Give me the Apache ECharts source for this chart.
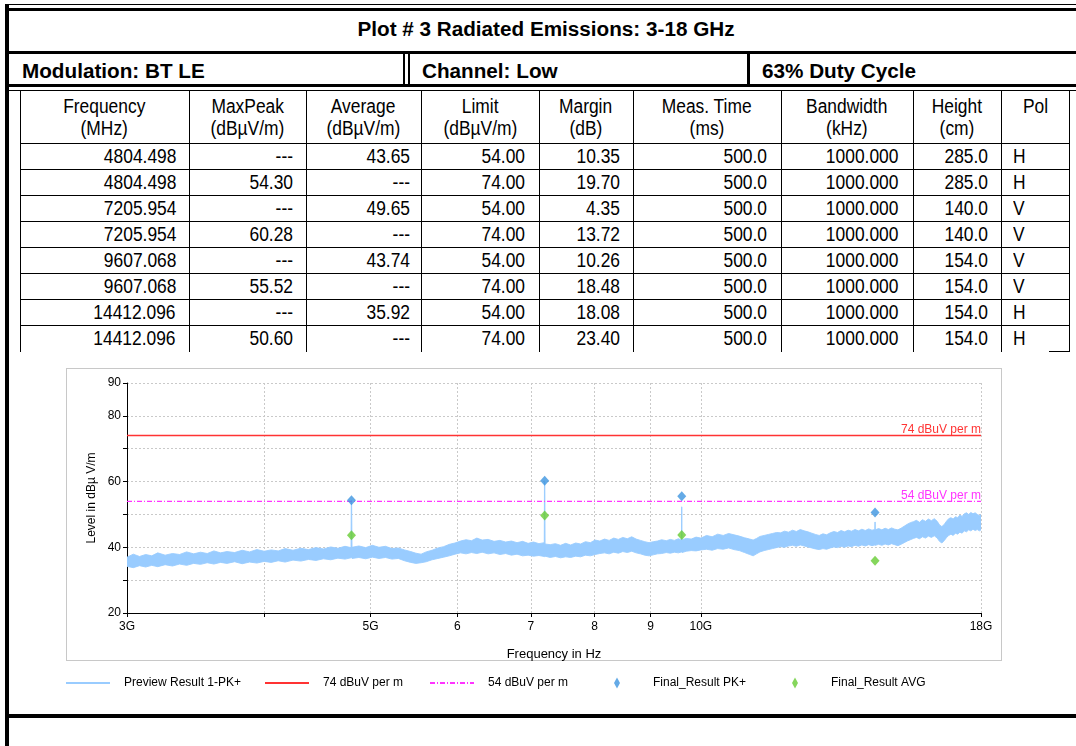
<!DOCTYPE html>
<html><head><meta charset="utf-8">
<script src="https://cdn.jsdelivr.net/npm/echarts@6.0.0/dist/echarts.min.js"></script>
<style>
html,body{margin:0;padding:0;background:#fff;width:1076px;height:746px;overflow:hidden;font-family:"Liberation Sans",Arial,sans-serif;}
#page{position:absolute;left:0;top:0;width:1076px;height:746px;}
.ln{position:absolute;background:#000;}
.tx{position:absolute;white-space:nowrap;color:#000;box-sizing:border-box;}
.tx span{display:inline-block;}
#panel{position:absolute;left:66px;top:368px;width:936px;height:293px;border:1px solid #c8c8c8;box-sizing:border-box;}
#chart{position:absolute;left:0;top:0;width:1076px;height:746px;}
</style></head><body>
<div id="page"></div>
<div id="panel"></div>
<div id="chart"></div>
<script>
// ---------- texts ----------
const plotTitle = 'Plot # 3 Radiated Emissions: 3-18 GHz';
const infoCells = ['Modulation: BT LE', 'Channel: Low', '63% Duty Cycle'];
const headLine1 = ['Frequency', 'MaxPeak', 'Average', 'Limit', 'Margin', 'Meas. Time', 'Bandwidth', 'Height', 'Pol'];
const headLine2 = ['(MHz)', '(dBµV/m)', '(dBµV/m)', '(dBµV/m)', '(dB)', '(ms)', '(kHz)', '(cm)', ''];

// ---------- table values ----------
const rowFreq = ['4804.498', '4804.498', '7205.954', '7205.954', '9607.068', '9607.068', '14412.096', '14412.096'];
const rowMaxPeak = ['---', '54.30', '---', '60.28', '---', '55.52', '---', '50.60'];
const rowAverage = ['43.65', '---', '49.65', '---', '43.74', '---', '35.92', '---'];
const rowLimit = ['54.00', '74.00', '54.00', '74.00', '54.00', '74.00', '54.00', '74.00'];
const rowMargin = ['10.35', '19.70', '4.35', '13.72', '10.26', '18.48', '18.08', '23.40'];
const rowMeasTime = ['500.0', '500.0', '500.0', '500.0', '500.0', '500.0', '500.0', '500.0'];
const rowBandwidth = ['1000.000', '1000.000', '1000.000', '1000.000', '1000.000', '1000.000', '1000.000', '1000.000'];
const rowHeight = ['285.0', '285.0', '140.0', '140.0', '154.0', '154.0', '154.0', '154.0'];
const rowPol = ['H', 'H', 'V', 'V', 'V', 'V', 'H', 'H'];

// ---------- chart values ----------
const finalFreqMHz = [4804.498, 7205.954, 9607.068, 14412.096];
const finalPeak = [54.30, 60.28, 55.52, 50.60];
const finalAvg = [43.65, 49.65, 43.74, 35.92];
const limitSpanMHz = [3000, 18000];
const peakLimit = 74;
const avgLimit = 54;
const seriesNames = ['Preview Result 1-PK+', '74 dBuV per m', '54 dBuV per m', 'Final_Result PK+', 'Final_Result AVG'];
const xTickValues = [3000, 4000, 5000, 6000, 7000, 8000, 9000, 10000, 18000];
const xLabelValues = [3000, 5000, 6000, 7000, 8000, 9000, 10000, 18000];
const xLabelTexts = ['3G', '5G', '6', '7', '8', '9', '10G', '18G'];
const yLabelValues = [20, 40, 60, 80, 90];

// preview trace (PK+), band: lower and upper edge per frequency
const traceFreqMHz = [
 3000,3040,3080,3120,3160,3200,3250,3300,3350,3400,
 3450,3500,3550,3600,3650,3700,3760,3820,3880,3940,
 4000,4060,4120,4180,4250,4320,4390,4460,4530,4600,
 4670,4740,4800,4803,4806,4810,4880,4950,5020,5090,
 5160,5230,5300,5370,5440,5500,5560,5620,5690,5760,
 5830,5900,5970,6040,6110,6180,6250,6320,6400,6480,
 6560,6640,6720,6800,6880,6960,7040,7120,7200,7203,
 7208,7212,7290,7370,7450,7530,7610,7690,7770,7850,
 7930,8010,8090,8170,8250,8330,8410,8490,8570,8650,
 8730,8810,8890,8970,9050,9130,9210,9300,9380,9460,
 9540,9602,9605,9609,9612,9700,9800,9900,10000,10120,
 10240,10360,10480,10600,10720,10840,10960,11080,11160,11240,
 11320,11420,11520,11620,11720,11820,11920,12020,12120,12220,
 12320,12420,12520,12620,12720,12820,12920,13020,13120,13220,
 13320,13420,13520,13620,13720,13820,13920,14020,14120,14220,
 14320,14405,14410,14415,14420,14520,14620,14720,14820,14920,
 15020,15120,15220,15320,15420,15520,15620,15720,15820,15920,
 16020,16120,16220,16320,16420,16500,16580,16660,16740,16820,
 16900,16980,17060,17140,17220,17300,17380,17460,17540,17620,
 17700,17780,17860,17940,18000];
const traceLow = [
 34.2,33.8,34.4,34.0,34.5,34.1,34.7,34.3,34.9,34.5,
 35.1,34.8,35.3,34.9,35.4,35.1,35.6,35.0,35.5,35.2,
 35.7,35.4,35.9,35.5,36.1,35.8,36.3,36.0,36.5,36.2,
 36.7,36.4,36.8,37.0,37.0,36.6,36.9,36.5,37.0,36.6,
 36.9,36.4,36.6,35.9,35.4,35.1,35.3,35.6,36.2,36.6,
 37.0,37.4,37.9,38.3,38.0,38.4,38.1,38.5,38.0,38.3,
 37.8,38.1,37.6,37.9,37.4,37.6,37.3,37.5,37.2,37.1,
 37.1,37.3,36.9,37.2,36.8,37.1,36.9,37.3,37.1,37.6,
 37.4,37.8,38.1,38.3,38.0,38.5,38.2,38.7,38.4,38.8,
 38.3,38.0,37.6,37.4,37.7,38.0,38.1,38.4,38.2,38.5,
 38.3,38.6,38.6,38.6,38.4,38.8,39.0,38.9,39.2,39.4,
 39.1,39.6,39.4,39.8,39.3,39.0,38.4,37.8,37.4,38.0,
 38.6,39.0,39.3,39.6,39.9,40.2,40.0,40.4,40.6,40.3,
 40.7,40.4,40.1,39.8,39.5,39.3,39.6,39.4,39.8,40.1,
 39.9,40.3,40.0,40.4,40.2,40.6,40.3,40.7,40.4,40.8,
 40.5,40.7,40.6,40.6,40.6,40.9,40.6,41.0,40.7,41.1,
 40.8,40.5,40.9,41.4,41.9,42.3,42.7,43.0,42.6,43.2,
 42.8,43.4,43.0,43.5,42.8,41.8,41.3,42.0,42.9,43.6,
 44.0,43.6,44.3,44.0,44.6,44.3,45.0,44.7,45.3,45.0,
 45.5,45.1,45.4,45.0,45.3];
const traceHigh = [
 37.0,37.9,37.2,37.8,37.4,38.3,37.6,38.1,37.8,38.6,
 38.0,38.5,38.1,38.9,38.3,38.7,38.4,39.1,38.6,39.3,
 38.8,39.2,38.9,39.6,39.1,39.7,39.3,39.9,39.5,40.1,
 39.7,40.3,39.9,54.3,54.3,40.0,40.4,39.9,40.6,40.0,
 40.3,39.6,39.8,39.2,38.7,38.2,37.9,38.6,39.1,39.8,
 40.2,40.9,41.3,41.9,42.3,42.0,42.8,42.2,42.4,41.8,
 42.1,41.6,41.9,41.4,41.8,41.2,41.6,41.1,41.4,60.2,
 60.2,41.0,40.8,41.1,40.6,41.2,40.7,41.3,41.0,41.7,
 41.4,42.2,41.9,42.5,42.1,42.8,42.4,43.0,42.6,43.2,
 42.5,42.1,41.7,41.4,41.7,41.9,42.3,42.0,42.4,42.1,
 42.6,42.2,52.3,52.3,42.3,42.7,42.5,43.1,42.8,43.6,
 43.2,44.0,43.6,44.2,43.8,43.4,42.9,42.5,42.2,42.7,
 43.3,43.6,43.9,44.2,44.5,44.4,44.9,44.6,45.2,44.8,
 45.4,45.0,44.7,44.3,43.9,43.6,44.1,43.8,44.4,44.8,
 44.5,45.1,44.7,45.2,44.9,45.4,45.0,45.5,45.1,45.6,
 45.2,45.4,47.7,47.7,45.3,45.7,45.3,45.8,45.4,45.9,
 45.5,45.3,45.8,46.4,47.0,47.5,47.8,48.2,47.6,48.4,
 47.9,48.6,48.1,48.7,47.9,46.8,46.3,46.9,47.9,48.7,
 49.0,48.6,49.3,49.0,49.8,49.4,50.2,50.5,50.0,50.6,
 50.2,50.5,50.0,49.7,49.9];

// ---------- page frame & table (HTML) ----------
const page = document.getElementById('page');
function box(l, t, w, h) {
  const d = document.createElement('div');
  d.className = 'ln';
  d.style.cssText = 'left:' + l + 'px;top:' + t + 'px;width:' + w + 'px;height:' + h + 'px';
  page.appendChild(d);
}
function text(str, x, w, cy, align, size, bold, scale, pad) {
  const d = document.createElement('div');
  d.className = 'tx';
  d.style.left = x + 'px';
  d.style.width = w + 'px';
  d.style.top = (cy - 15) + 'px';
  d.style.height = '30px';
  d.style.lineHeight = '30px';
  d.style.textAlign = align;
  d.style.fontSize = size + 'px';
  d.style.fontWeight = bold ? 'bold' : 'normal';
  if (pad) { if (align === 'right') d.style.paddingRight = pad + 'px'; else if (align === 'left') d.style.paddingLeft = pad + 'px'; }
  const s = document.createElement('span');
  s.textContent = str;
  s.style.transform = 'scaleX(' + scale + ')';
  s.style.transformOrigin = align === 'right' ? '100% 50%' : (align === 'left' ? '0 50%' : '50% 50%');
  d.appendChild(s);
  page.appendChild(d);
}

// frame lines
box(5, 4, 4, 742);
box(5, 4, 1071, 1);
box(5, 8, 1071, 3);
box(5, 51, 1071, 3);
box(5, 84, 1071, 3);
box(5, 90, 1071, 1);
box(403, 54, 2, 30);
box(408, 54, 1.5, 30);
box(747, 54, 3, 30);
box(5, 714, 1071, 4);

// title + info row
text(plotTitle, 246, 600, 29, 'center', 20.7, true, 1, 0);
const infoX = [22, 422, 762];
infoCells.forEach((t, i) => text(t, infoX[i], 300, 70.5, 'left', 20.7, true, 1, 0));

// table grid
const colX = [20, 189, 306, 421, 539, 633, 781, 913, 1001, 1069];
colX.forEach(x => box(x, 91, 1, 261));
for (let k = 0; k < 8; k++) box(20, 143 + 26 * k, 1050, 1);
box(1049, 351, 21, 1);

// header text
const S = 0.87;
for (let c = 0; c < 9; c++) {
  const x0 = colX[c], w = colX[c + 1] - colX[c];
  text(headLine1[c], x0, w, 105.5, 'center', 20, false, S, 0);
  if (headLine2[c]) text(headLine2[c], x0, w, 128, 'center', 20, false, S, 0);
}
// data rows
const cols = [rowFreq, rowMaxPeak, rowAverage, rowLimit, rowMargin, rowMeasTime, rowBandwidth, rowHeight, rowPol];
const padR = [13, 13, 11, 14, 13, 14, 15, 13, 12];
for (let r = 0; r < rowFreq.length; r++) {
  const cy = 156 + 26 * r;
  for (let c = 0; c < 9; c++) {
    const x0 = colX[c], w = colX[c + 1] - colX[c];
    text(cols[c][r], x0, w, cy, c === 8 ? 'left' : 'right', 20, false, S, padR[c]);
  }
}

// ---------- chart ----------
const chart = echarts.init(document.getElementById('chart'), null, { renderer: 'canvas' });
const n = Math.min(traceFreqMHz.length, traceLow.length, traceHigh.length);
const traceData = [];
for (let i = 0; i < n; i++) traceData.push([traceFreqMHz[i], traceLow[i], traceHigh[i]]);

const gridLine = { show: true, lineStyle: { color: '#c9c9c9', type: [2, 2], width: 1 } };
const FONT = 'Liberation Sans';
const RED = '#ff3333', MAGENTA = '#ff33ff', BLUE = '#3d95e0', GREEN = '#66cc33', TRACE = '#99ccff';

const legendIcons = [
  'path://M0,0H44V2H0Z',
  'path://M0,0H44V2H0Z',
  'path://M0,0H5V2H0Z M7,0H8V2H7Z M10,0H15V2H10Z M17,0H18V2H17Z M20,0H25V2H20Z M27,0H28V2H27Z M30,0H35V2H30Z M37,0H38V2H37Z M40,0H44V2H40Z',
  'path://M3,0L6,5.5L3,11L0,5.5Z',
  'path://M3,0L6,5.5L3,11L0,5.5Z'
];
const legendLeft = [66, 265, 430, 614, 792];
const legends = seriesNames.map((nm, i) => ({
  left: legendLeft[i], top: 677, padding: 0, itemWidth: 44, itemHeight: 11,
  textStyle: { fontSize: 12, color: '#000', fontFamily: FONT, padding: [0, 0, 0, 9] },
  data: [{ name: nm, icon: legendIcons[i] }]
}));

const option = {
  backgroundColor: 'transparent',
  animation: false,
  textStyle: { fontFamily: FONT },
  grid: { left: 127, right: 95, top: 383, bottom: 133, containLabel: false },
  legend: legends,
  xAxis: {
    type: 'log', logBase: 10, min: limitSpanMHz[0], max: limitSpanMHz[1],
    name: 'Frequency in Hz', nameLocation: 'middle', nameGap: 35, nameMoveOverlap: false,
    nameTextStyle: { fontSize: 13, color: '#000', fontFamily: FONT },
    axisLine: { show: true, onZero: false, lineStyle: { color: '#000', width: 1 } },
    axisTick: { show: true, inside: false, length: 4, customValues: xTickValues, lineStyle: { color: '#000' } },
    axisLabel: {
      show: true, customValues: xLabelValues, color: '#000', fontSize: 12, margin: 8, fontFamily: FONT,
      formatter: function (v) {
        for (let i = 0; i < xLabelValues.length; i++) if (Math.abs(v - xLabelValues[i]) < 1) return xLabelTexts[i];
        return '';
      }
    },
    splitLine: gridLine,
    minorTick: { show: false }, minorSplitLine: { show: false }
  },
  yAxis: {
    type: 'value', min: 20, max: 90, interval: 10,
    name: 'Level in dBµ V/m', nameLocation: 'middle', nameGap: 29, nameRotate: 90, nameMoveOverlap: false,
    nameTextStyle: { fontSize: 12, color: '#000', fontFamily: FONT },
    axisLine: { show: true, lineStyle: { color: '#000', width: 1 } },
    axisTick: { show: true, inside: false, length: 4, lineStyle: { color: '#000' } },
    axisLabel: { show: true, customValues: yLabelValues, color: '#000', fontSize: 12, margin: 6, fontFamily: FONT },
    splitLine: gridLine
  },
  series: [
    {
      type: 'custom', name: seriesNames[0], coordinateSystem: 'cartesian2d', z: 2, clip: true,
      data: traceData, encode: { x: 0, y: [1, 2] },
      itemStyle: { color: TRACE },
      renderItem: function (params, api) {
        if (params.dataIndex !== 0) return null;
        const pts = [];
        for (let i = 0; i < n; i++) pts.push(api.coord([traceFreqMHz[i], traceHigh[i]]));
        for (let i = n - 1; i >= 0; i--) pts.push(api.coord([traceFreqMHz[i], traceLow[i]]));
        return { type: 'polygon', shape: { points: pts }, style: { fill: TRACE, stroke: TRACE, lineWidth: 0.9 } };
      }
    },
    {
      type: 'line', name: seriesNames[1], z: 3, symbol: 'none', silent: true,
      data: [[limitSpanMHz[0], peakLimit], [limitSpanMHz[1], peakLimit]],
      lineStyle: { color: RED, width: 1.4 }, itemStyle: { color: RED },
      markLine: {
        silent: true, symbol: ['none', 'none'], animation: false,
        lineStyle: { color: 'rgba(0,0,0,0)', width: 0 },
        label: { show: true, position: 'insideEndTop', distance: 0, formatter: seriesNames[1], color: RED, fontSize: 12, fontFamily: FONT },
        data: [{ yAxis: peakLimit }]
      }
    },
    {
      type: 'line', name: seriesNames[2], z: 3, symbol: 'none', silent: true,
      data: [[limitSpanMHz[0], avgLimit], [limitSpanMHz[1], avgLimit]],
      lineStyle: { color: MAGENTA, width: 1.3, type: [5, 2, 1, 2] }, itemStyle: { color: MAGENTA },
      markLine: {
        silent: true, symbol: ['none', 'none'], animation: false,
        lineStyle: { color: 'rgba(0,0,0,0)', width: 0 },
        label: { show: true, position: 'insideEndTop', distance: 0, formatter: seriesNames[2], color: MAGENTA, fontSize: 12, fontFamily: FONT },
        data: [{ yAxis: avgLimit }]
      }
    },
    {
      type: 'scatter', name: seriesNames[3], z: 5, symbol: 'diamond', symbolSize: [9, 10],
      data: finalFreqMHz.map((f, i) => [f, finalPeak[i]]),
      itemStyle: { color: BLUE }
    },
    {
      type: 'scatter', name: seriesNames[4], z: 5, symbol: 'diamond', symbolSize: [9, 10],
      data: finalFreqMHz.map((f, i) => [f, finalAvg[i]]),
      itemStyle: { color: GREEN }
    }
  ]
};
chart.setOption(option);
</script>
</body></html>
